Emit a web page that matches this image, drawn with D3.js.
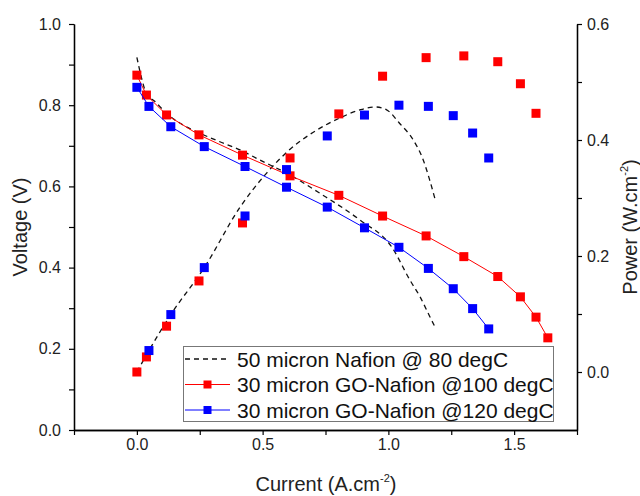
<!DOCTYPE html>
<html>
<head>
<meta charset="utf-8">
<script src="https://cdn.jsdelivr.net/npm/d3@7"></script>
<style>
  body { margin: 0; background: #fff; }
  text { font-family: "Liberation Sans", Arial, sans-serif; }
</style>
</head>
<body>
<svg id="chart" width="640" height="496"></svg>
<script>
// ---- Data ----
const currentRed = [0, 0.038, 0.118, 0.247, 0.42, 0.609, 0.803, 0.977, 1.15, 1.30, 1.435, 1.525, 1.587, 1.634];
const voltageRed = [0.874, 0.825, 0.776, 0.727, 0.677, 0.626, 0.578, 0.527, 0.478, 0.427, 0.378, 0.328, 0.278, 0.227];
const powerRed   = [0.0, 0.026, 0.079, 0.157, 0.257, 0.369, 0.445, 0.510, 0.542, 0.545, 0.535, 0.497, 0.446, null];

const currentBlue = [0, 0.048, 0.135, 0.268, 0.43, 0.595, 0.757, 0.905, 1.042, 1.159, 1.258, 1.335, 1.399];
const voltageBlue = [0.844, 0.797, 0.747, 0.698, 0.649, 0.598, 0.549, 0.498, 0.45, 0.398, 0.348, 0.299, 0.249];
const powerBlue   = [null, 0.037, 0.099, 0.180, 0.269, 0.349, 0.407, 0.443, 0.460, 0.458, 0.442, 0.412, 0.369];

const currentNafionV = [0, 0.019, 0.038, 0.072, 0.118, 0.184, 0.25, 0.33, 0.41, 0.489, 0.609, 0.728, 0.887, 1.013, 1.086, 1.126, 1.165, 1.189];
const voltageNafion  = [0.918, 0.866, 0.828, 0.809, 0.780, 0.751, 0.731, 0.710, 0.690, 0.665, 0.628, 0.583, 0.517, 0.451, 0.369, 0.328, 0.279, 0.249];
const currentNafionP = [0, 0.048, 0.135, 0.268, 0.41, 0.516, 0.609, 0.70, 0.807, 0.887, 0.947, 0.993, 1.046, 1.099, 1.139, 1.165, 1.185];
const powerNafion    = [0, 0.037, 0.099, 0.18, 0.284, 0.343, 0.384, 0.413, 0.438, 0.452, 0.457, 0.452, 0.428, 0.40, 0.365, 0.33, 0.299];

const xMajor = [0, 0.5, 1.0, 1.5];
const xMinor = [-0.25, 0.25, 0.75, 1.25, 1.75];
const yLMajor = [0, 0.2, 0.4, 0.6, 0.8, 1.0];
const yLMinor = [0.1, 0.3, 0.5, 0.7, 0.9];
const yRMajor = [0, 0.2, 0.4, 0.6];
const yRMinor = [0.1, 0.3, 0.5];

const legendLabels = ["50 micron Nafion @ 80 degC", "30 micron GO-Nafion @100 degC", "30 micron GO-Nafion @120 degC"];
const RED = "#ff0000", BLUE = "#0000ff";

// ---- Layout ----
const svg = d3.select("#chart");
const L = 74, R = 577, T = 24, B = 430;
const x = d3.scaleLinear().domain([-0.25, 1.75]).range([L, R]);
const yL = d3.scaleLinear().domain([0, 1.0]).range([B, T]);
const yR = d3.scaleLinear().domain([-0.1, 0.6]).range([B, T]);

const fmt = d3.format(".1f");

function styleAxis(g) {
  g.selectAll("path").attr("stroke", "#000").attr("stroke-width", 1.3);
  g.selectAll("line").attr("stroke", "#000").attr("stroke-width", 1.2);
  g.selectAll("text").attr("font-size", 16).attr("fill", "#222")
    .attr("font-family", '"Liberation Sans", Arial, sans-serif');
}

// axes
svg.append("g").attr("transform", `translate(0,${B})`)
  .call(d3.axisBottom(x).tickValues(xMinor).tickSize(5).tickFormat("").tickSizeOuter(0)).call(styleAxis);
svg.append("g").attr("transform", `translate(0,${B})`)
  .call(d3.axisBottom(x).tickValues(xMajor).tickSize(5).tickPadding(4).tickFormat(fmt).tickSizeOuter(0)).call(styleAxis);

svg.append("g").attr("transform", `translate(${L},0)`)
  .call(d3.axisLeft(yL).tickValues(yLMinor).tickSize(5).tickFormat("").tickSizeOuter(0)).call(styleAxis);
svg.append("g").attr("transform", `translate(${L},0)`)
  .call(d3.axisLeft(yL).tickValues(yLMajor).tickSize(5).tickPadding(8).tickFormat(fmt).tickSizeOuter(0)).call(styleAxis);

svg.append("g").attr("transform", `translate(${R},0)`)
  .call(d3.axisRight(yR).tickValues(yRMinor).tickSize(5).tickFormat("").tickSizeOuter(0)).call(styleAxis);
svg.append("g").attr("transform", `translate(${R},0)`)
  .call(d3.axisRight(yR).tickValues(yRMajor).tickSize(5).tickPadding(5).tickFormat(fmt).tickSizeOuter(0)).call(styleAxis);

// axis titles
svg.append("text").attr("transform", `translate(27,${(T + B) / 2}) rotate(-90)`)
  .attr("text-anchor", "middle").attr("font-size", 20).attr("fill", "#222").text("Voltage (V)");

const xt = svg.append("text").attr("x", 326).attr("y", 491).attr("text-anchor", "middle")
  .attr("font-size", 20).attr("fill", "#222");
xt.append("tspan").text("Current (A.cm");
xt.append("tspan").attr("font-size", 11).attr("dy", -9).text("-2");
xt.append("tspan").attr("dy", 9).text(")");

const yt = svg.append("text").attr("transform", `translate(637,${(T + B) / 2}) rotate(-90)`)
  .attr("text-anchor", "middle").attr("font-size", 20).attr("fill", "#222");
yt.append("tspan").text("Power (W.cm");
yt.append("tspan").attr("font-size", 11).attr("dy", -9).text("-2");
yt.append("tspan").attr("dy", 9).text(")");

// ---- Marks ----
const lineGen = d3.line().x(d => x(d[0])).y(d => d[1]);

// nafion dashed
svg.append("path")
  .datum(currentNafionV.map((c, i) => [c, yL(voltageNafion[i])]))
  .attr("d", lineGen.curve(d3.curveMonotoneX))
  .attr("fill", "none").attr("stroke", "#111").attr("stroke-width", 1.3).attr("stroke-dasharray", "5,4");
svg.append("path")
  .datum(currentNafionP.map((c, i) => [c, yR(powerNafion[i])]))
  .attr("d", lineGen.curve(d3.curveMonotoneX))
  .attr("fill", "none").attr("stroke", "#111").attr("stroke-width", 1.3).attr("stroke-dasharray", "5,4");

const S = 9;
function series(cur, volt, pow, color) {
  svg.append("path")
    .datum(cur.map((c, i) => [c, yL(volt[i])]))
    .attr("d", d3.line().x(d => x(d[0])).y(d => d[1]))
    .attr("fill", "none").attr("stroke", color).attr("stroke-width", 1);
  svg.append("g").selectAll("rect").data(cur.map((c, i) => [c, volt[i]]))
    .join("rect")
    .attr("x", d => x(d[0]) - S / 2).attr("y", d => yL(d[1]) - S / 2)
    .attr("width", S).attr("height", S).attr("fill", color);
  svg.append("g").selectAll("rect").data(cur.map((c, i) => [c, pow[i]]).filter(d => d[1] !== null))
    .join("rect")
    .attr("x", d => x(d[0]) - S / 2).attr("y", d => yR(d[1]) - S / 2)
    .attr("width", S).attr("height", S).attr("fill", color);
}
series(currentRed, voltageRed, powerRed, RED);
series(currentBlue, voltageBlue, powerBlue, BLUE);

// ---- Legend ----
const lg = svg.append("g");
lg.append("rect").attr("x", 183.5).attr("y", 346.5).attr("width", 370).attr("height", 75)
  .attr("fill", "#fff").attr("stroke", "#777").attr("stroke-width", 1);
const rowsY = [359, 384.5, 410];
const legendStyles = [
  { color: "#111", dash: "5,4", marker: false },
  { color: RED, dash: null, marker: true },
  { color: BLUE, dash: null, marker: true }
];
legendLabels.forEach((lab, i) => {
  const st = legendStyles[i];
  lg.append("line").attr("x1", 185).attr("x2", 230).attr("y1", rowsY[i]).attr("y2", rowsY[i])
    .attr("stroke", st.color).attr("stroke-width", i === 0 ? 1.3 : 1)
    .attr("stroke-dasharray", st.dash);
  if (st.marker) {
    lg.append("rect").attr("x", 207.5 - 4).attr("y", rowsY[i] - 4).attr("width", 8).attr("height", 8)
      .attr("fill", st.color);
  }
  lg.append("text").attr("x", 237).attr("y", rowsY[i]).attr("dy", "0.36em")
    .attr("font-size", 21).attr("fill", "#111").text(lab);
});
</script>
</body>
</html>
